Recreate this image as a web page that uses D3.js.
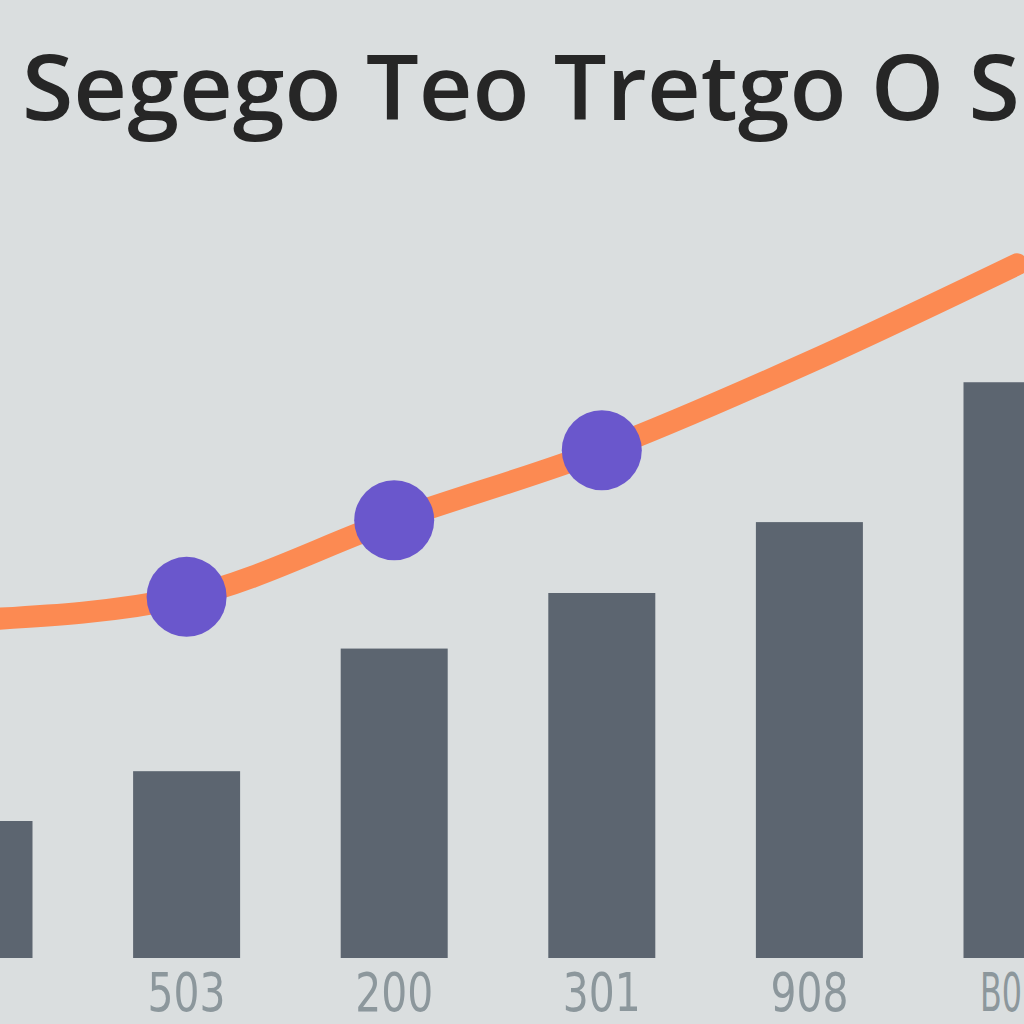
<!DOCTYPE html>
<html><head><meta charset="utf-8">
<script src="https://cdn.jsdelivr.net/npm/d3@7"></script>
<style>html,body{margin:0;padding:0;background:#dadedf;overflow:hidden}</style>
</head><body>
<svg id="c" width="1024" height="1024"></svg>
<script>
const title = "Segego Teo Tretgo O S";
const categories = ["c0","c1","c2","c3","c4","c5"];
const tickLabels = ["", "503", "200", "301", "908", "B0"];
const barValues = [143, 195, 323, 381, 455, 601];
const lineValues = [353, 377, 457, 530, 622, 724];
const dotCategories = ["c1","c2","c3"];

const W = 1024, H = 1024;
const svg = d3.select("#c");
svg.append("rect").attr("width", W).attr("height", H).attr("fill", "#dadedf");

const x = d3.scalePoint().domain(categories).range([-21, 1017]);
const y = d3.scaleLinear().domain([0, 1000]).range([958, 0]);
const barW = 107;

svg.append("g").selectAll("rect").data(categories).join("rect")
  .attr("x", d => x(d) - barW/2)
  .attr("y", (d,i) => y(barValues[i]))
  .attr("width", barW)
  .attr("height", (d,i) => y(0) - y(barValues[i]))
  .attr("fill", "#5c6570");

const line = d3.line()
  .x(d => x(d[0])).y(d => y(d[1]))
  .curve(d3.curveMonotoneX);
const pts = categories.map((c,i) => [c, lineValues[i]]);
svg.append("path").datum(pts).attr("d", line)
  .attr("fill", "none").attr("stroke", "#fc8a52").attr("stroke-width", 22)
  .attr("stroke-linecap", "round");

svg.append("g").selectAll("circle").data(dotCategories).join("circle")
  .attr("cx", d => x(d))
  .attr("cy", d => y(lineValues[categories.indexOf(d)]))
  .attr("r", 40)
  .attr("fill", "#6a57cc");

svg.append("text").attr("x", 22).attr("y", 120).text(title)
  .attr("font-family", "Open Sans, Noto Sans, sans-serif")
  .attr("font-weight", 600)
  .attr("font-size", 90).attr("fill", "#262626")
  .attr("textLength", 998).attr("lengthAdjust", "spacingAndGlyphs");

const last = categories.length - 1;
svg.append("g").selectAll("text").data(categories).join("text")
  .attr("x", (d,i) => i === last ? W - 2 : x(d)).attr("y", 1011)
  .attr("text-anchor", (d,i) => i === last ? "end" : "middle")
  .attr("font-family", "Liberation Sans Narrow, DejaVu Sans Condensed, sans-serif")
  .attr("font-size", 54).attr("fill", "#8c979c")
  .attr("textLength", (d,i) => tickLabels[i] ? (i === last ? 42 : 26 * tickLabels[i].length) : null)
  .attr("lengthAdjust", "spacingAndGlyphs")
  .text((d,i) => tickLabels[i]);
</script>
</body></html>
